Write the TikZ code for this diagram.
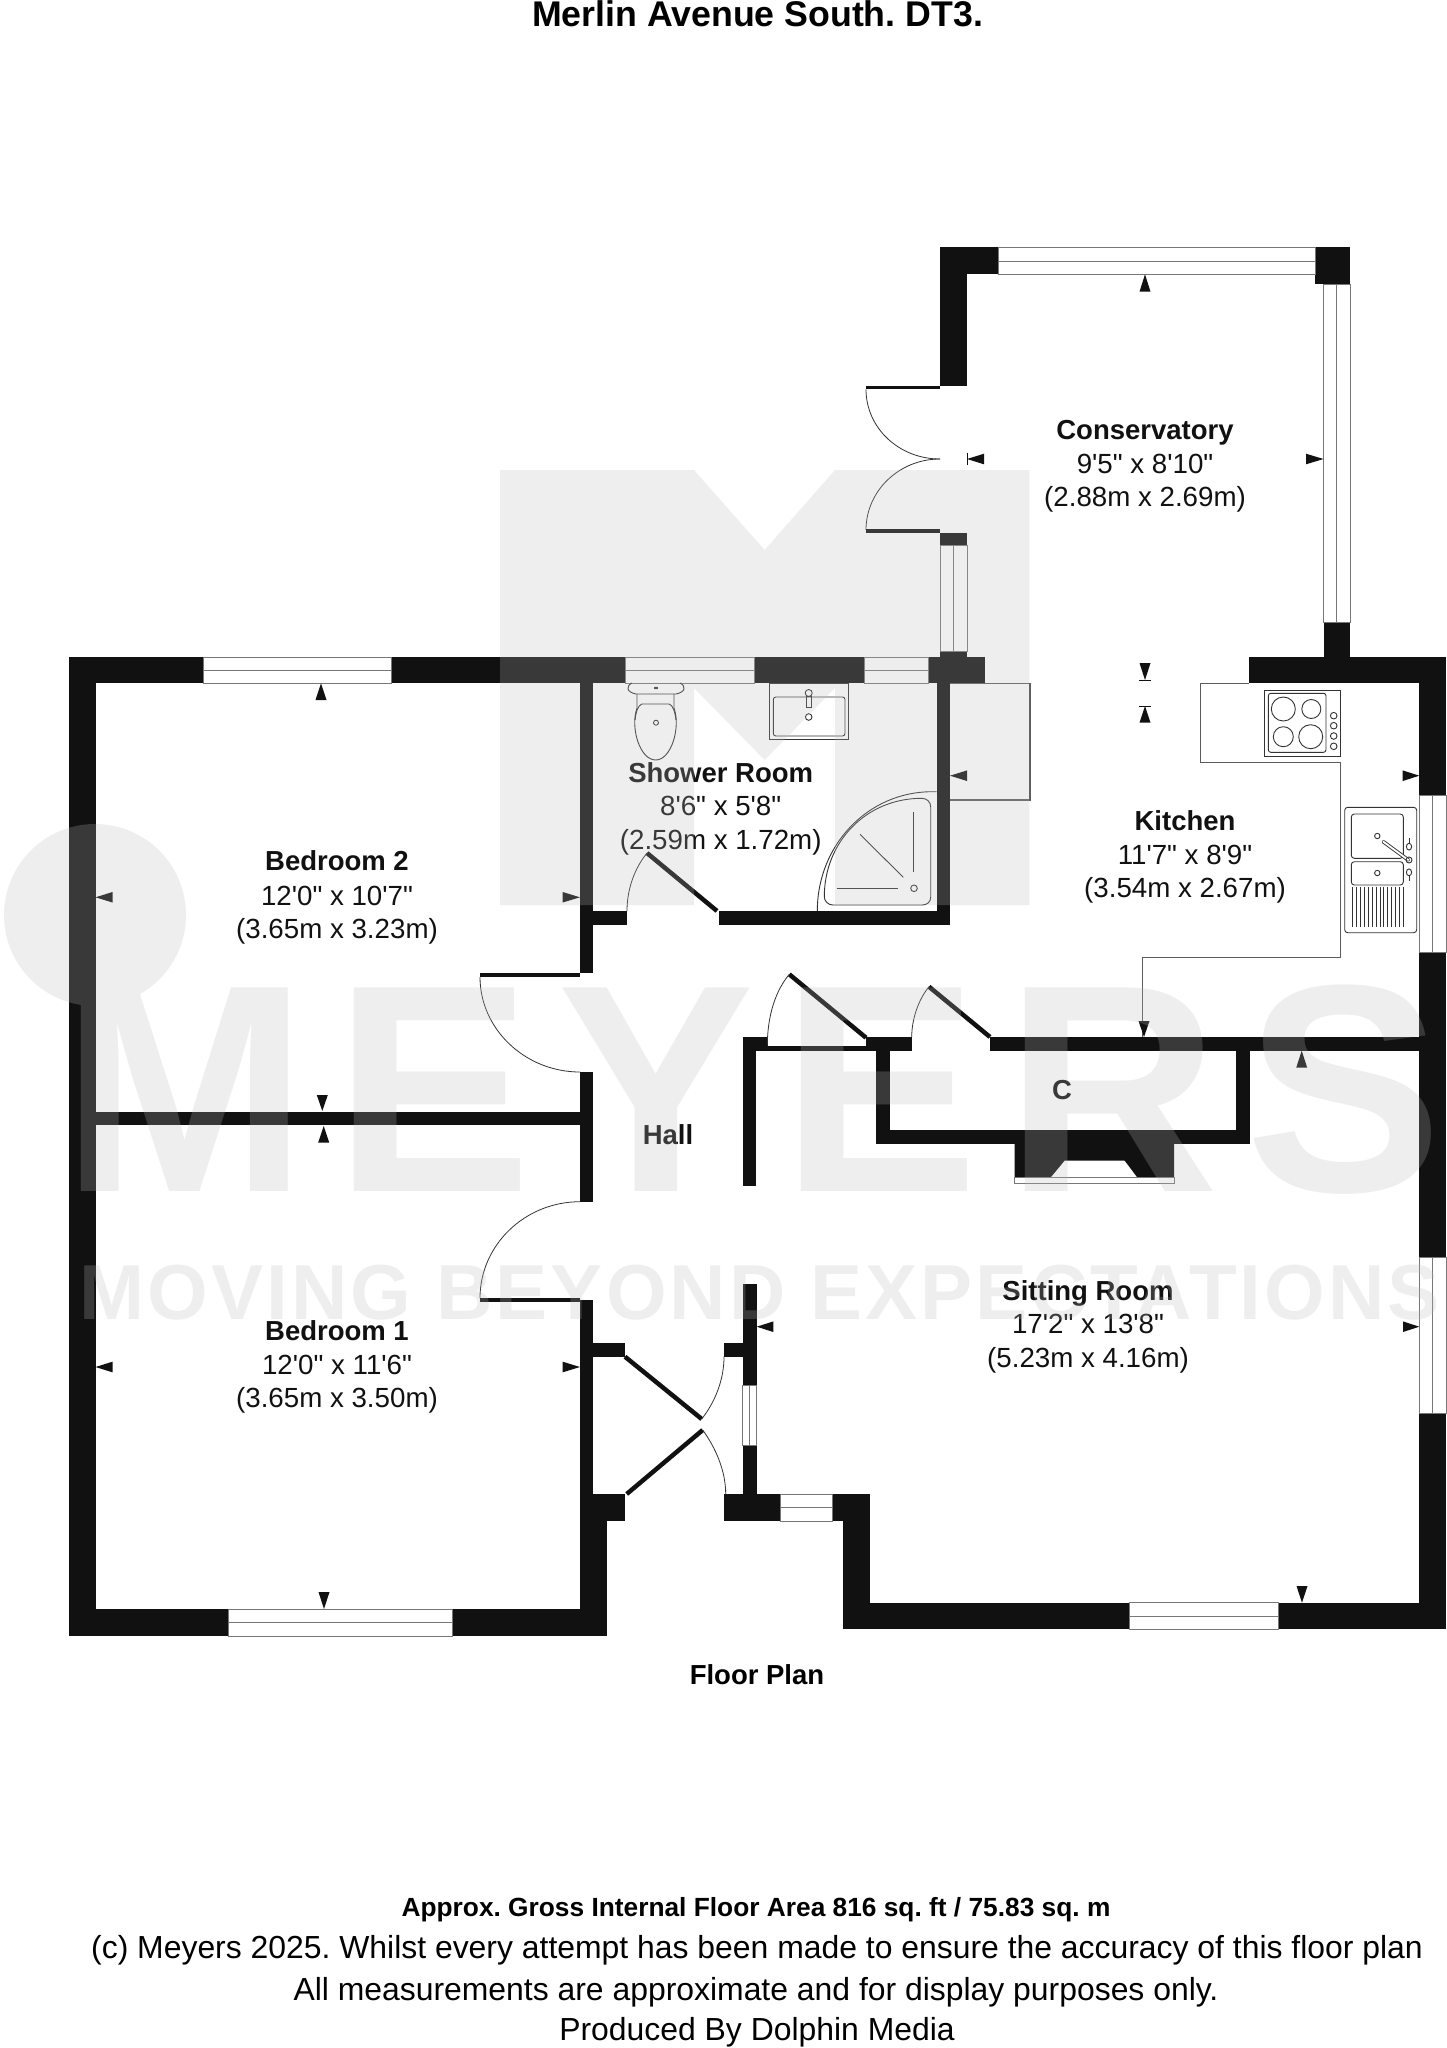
\documentclass[tikz,border=0pt]{standalone}
\usepackage{fontspec}
\setmainfont{Liberation Sans}[Ligatures=TeXOff]
\newfontfamily\wmfont[LetterSpace=8.85]{Liberation Sans}
\newfontfamily\wmsmallfont[LetterSpace=4]{Liberation Sans}
\definecolor{wallblack}{HTML}{111111}
\definecolor{panegray}{HTML}{777777}
\definecolor{fixturegray}{HTML}{333333}
\definecolor{markgray}{gray}{0.737}
\tikzset{
  wall/.style={fill=wallblack},
  pane/.style={draw=panegray,fill=white,line width=1pt},
  paneline/.style={draw=panegray,line width=1pt},
  unit/.style={draw=fixturegray,line width=0.9pt},
  worktop/.style={draw=fixturegray!80,line width=1.1pt},
  leaf/.style={draw=wallblack,line width=4.5pt},
  swing/.style={draw=fixturegray,line width=0.8pt},
  tip/.style={fill=wallblack},
  bar/.style={draw=wallblack,line width=0.9pt},
  roomname/.style={anchor=base,inner sep=0pt,text=wallblack,font=\fontsize{27.5}{33}\selectfont\bfseries},
  roomsize/.style={anchor=base,inner sep=0pt,text=wallblack,font=\fontsize{27.7}{33}\selectfont},
  notebold/.style={anchor=base,inner sep=0pt,text=black,font=\fontsize{26.3}{32}\selectfont\bfseries},
  noteline/.style={anchor=base,inner sep=0pt,text=black,font=\fontsize{31.9}{38}\selectfont}
}
\begin{document}
\frenchspacing
\begin{tikzpicture}[x=1pt,y=-1pt]
\useasboundingbox (0,0) rectangle (1447,2048);
\fill [white] (0,0) rectangle (1447,2048);
% outer walls
\fill [wall] (69,657) rectangle (95.5,1636);
\fill [wall] (69,657) rectangle (203.7,683.3);
\fill [wall] (391.8,657) rectangle (625,683.3);
\fill [wall] (754,657) rectangle (864,683.3);
\fill [wall] (928,657) rectangle (985,683.3);
\fill [wall] (1249.3,657) rectangle (1446,683.3);
\fill [wall] (1419.3,657) rectangle (1446,795.7);
\fill [wall] (1419.3,952.7) rectangle (1446,1257.7);
\fill [wall] (1419.3,1413) rectangle (1446,1629.3);
\fill [wall] (69,1609) rectangle (228.5,1636);
\fill [wall] (452,1609) rectangle (606.7,1636);
\fill [wall] (843.3,1602.7) rectangle (1129.7,1629.3);
\fill [wall] (1278.5,1602.7) rectangle (1446,1629.3);
\fill [wall] (843.3,1494) rectangle (870,1629.3);
% conservatory walls
\fill [wall] (940,247.3) rectangle (998,274.3);
\fill [wall] (940,247.3) rectangle (967,385.7);
\fill [wall] (1315,247.3) rectangle (1350,284);
\fill [wall] (1323.5,622.7) rectangle (1350,657);
\fill [wall] (940,532.7) rectangle (967,545);
\fill [wall] (940,651.7) rectangle (967,657);
% inner walls
\fill [wall] (580,683) rectangle (593.3,973);
\fill [wall] (580,1072) rectangle (593.3,1201.7);
\fill [wall] (580,1300) rectangle (593.3,1610);
\fill [wall] (95,1112) rectangle (580,1125);
\fill [wall] (580,1521) rectangle (606.7,1636);
\fill [wall] (580,1494) rectangle (625,1521);
\fill [wall] (593,1342.7) rectangle (625,1356.7);
\fill [wall] (593,911) rectangle (626.7,925);
\fill [wall] (719.3,911) rectangle (950,925);
\fill [wall] (936.7,683) rectangle (950,925);
% hall, cupboard and chimney
\fill [wall] (743,1037) rectangle (756.4,1185.7);
\fill [wall] (743,1037) rectangle (767.6,1050.7);
\fill [wall] (767.6,1046) rectangle (866,1050.7);
\fill [wall] (866,1037) rectangle (911.7,1050.7);
\fill [wall] (990,1037) rectangle (1446,1050.7);
\fill [wall] (876,1050) rectangle (889.5,1144);
\fill [wall] (876,1130) rectangle (1250,1144);
\fill [wall] (1236,1050) rectangle (1250,1144);
\fill [wall] (1014.5,1144) -- (1174,1144) -- (1174,1177) -- (1137,1177) -- (1124.7,1160.7) -- (1064.5,1160.7) -- (1051,1177) -- (1014.5,1177) -- cycle;
\draw [pane] (1014.5,1177) rectangle (1174,1183);
% front door walls
\fill [wall] (724,1342.7) rectangle (743,1356.7);
\fill [wall] (742.7,1284.3) rectangle (756.7,1385.7);
\fill [wall] (742.7,1445) rectangle (756.7,1494);
\fill [wall] (724,1494) rectangle (780,1521);
\fill [wall] (832.7,1494) rectangle (870,1521);
% windows
\draw [pane] (203.7,657) rectangle (391.8,683.3);
\draw [paneline] (203.7,670) -- (391.8,670);
\draw [pane] (625,657) rectangle (754,683.3);
\draw [paneline] (625,670) -- (754,670);
\draw [pane] (864,657) rectangle (928,683.3);
\draw [paneline] (864,670) -- (928,670);
\draw [pane] (998,247.3) rectangle (1315,274.3);
\draw [paneline] (998,261) -- (1315,261);
\draw [pane] (1323.5,284) rectangle (1350,622.7);
\draw [paneline] (1336.7,284) -- (1336.7,622.7);
\draw [pane] (940,545) rectangle (967,651.7);
\draw [paneline] (953.5,545) -- (953.5,651.7);
\draw [pane] (1419.3,795.7) rectangle (1446,952.7);
\draw [paneline] (1432.5,795.7) -- (1432.5,952.7);
\draw [pane] (1419.3,1257.7) rectangle (1446,1413);
\draw [paneline] (1432.5,1257.7) -- (1432.5,1413);
\draw [pane] (228.5,1609) rectangle (452,1636);
\draw [paneline] (228.5,1622.5) -- (452,1622.5);
\draw [pane] (1129.7,1602.7) rectangle (1278.5,1629.3);
\draw [paneline] (1129.7,1616) -- (1278.5,1616);
\draw [pane] (780,1494) rectangle (832.7,1521);
\draw [paneline] (780,1507.5) -- (832.7,1507.5);
\draw [pane] (742.7,1385.7) rectangle (756.7,1445);
\draw [paneline] (749.7,1385.7) -- (749.7,1445);
% doors
\fill [wall] (866,385.7) rectangle (940,389.3);
\draw [swing] (866,389.3) .. controls (866,428) and (899,459) .. (940,459);
\draw [swing] (940,459) .. controls (899,459) and (866,491) .. (866,530);
\fill [wall] (866,529.3) rectangle (940,533);
\fill [wall] (480,973) rectangle (580,977);
\draw [swing] (480,977) .. controls (480,1029) and (525,1072) .. (580,1072);
\fill [wall] (480,1298) rectangle (580,1301.7);
\draw [swing] (580,1201.7) .. controls (525,1201.7) and (480,1245) .. (480,1298);
\draw [leaf] (717,911) -- (647,853);
\draw [swing] (647,853) .. controls (634,869) and (627,890) .. (627,911);
\draw [leaf] (866,1037.7) -- (789.3,974.3);
\draw [swing] (789.3,974.3) .. controls (776,990) and (767.3,1015) .. (767.3,1046);
\draw [leaf] (990,1037) -- (929,986.7);
\draw [swing] (929,986.7) .. controls (918,1000) and (911.7,1020) .. (911.7,1037);
\draw [leaf] (625,1356.7) -- (701.7,1419);
\draw [swing] (701.7,1419) .. controls (715,1402) and (724,1380) .. (724,1356.7);
\draw [leaf] (626.7,1494) -- (702.7,1430);
\draw [swing] (702.7,1430) .. controls (715,1447) and (725.7,1470) .. (725.7,1494);
% toilet, basin and shower
\draw [unit] (632,683) .. controls (626,686) and (626,692) .. (636,694) -- (676,694) .. controls (686,692) and (686,686) .. (680,683);
\fill [fixturegray] (656,688) ellipse (2.2 and 1.2);
\draw [unit] (637,694) -- (637,708) .. controls (630,728) and (640,760) .. (655.7,760) .. controls (671,760) and (681,728) .. (674,708) -- (674,694);
\draw [unit] (635,720) .. controls (636,712) and (638,705) .. (642,704) -- (669,704) .. controls (673,705) and (675,712) .. (676,720);
\draw [unit] (656,722.7) circle (2.5);
\draw [unit] (769.3,683) rectangle (848.7,739);
\draw [unit,rounded corners=2.5pt] (773.3,697) rectangle (845,736);
\draw [unit] (808.7,693) circle (3.5);
\draw [unit] (806.5,696) rectangle (811,707);
\draw [unit] (808.7,717) circle (3.3);
\draw [unit] (936.7,791.7) -- (932,791.7) .. controls (868,791.7) and (817.3,845) .. (817.3,911);
\draw [unit] (921.7,798.3) .. controls (927,798.3) and (930.7,802) .. (930.7,807) -- (930.7,897) .. controls (930.7,902) and (927,905) .. (922,905) -- (833,905) .. controls (828,905) and (824.3,901) .. (824.3,896.7) .. controls (824.3,842) and (866,798.3) .. (921.7,798.3);
\draw [unit] (913.7,811.7) -- (913.7,871.7);
\draw [unit] (836.7,888.3) -- (898,888.3);
\draw [unit] (860,834.3) -- (903.3,877.3);
\draw [unit] (914,888.3) circle (3.3);
% kitchen fittings
\draw [worktop] (950,683.3) -- (1030,683.3) -- (1030,800) -- (950,800);
\draw [worktop] (1200.3,683.3) -- (1200.3,762.7) -- (1340.3,762.7) -- (1340.3,957.7) -- (1142.7,957.7) -- (1142.7,1037);
\draw [worktop] (1200.3,683.3) -- (1249.3,683.3);
\draw [unit] (1264.3,690) rectangle (1340.7,756.7);
\draw [unit,rounded corners=2.5pt] (1268.3,693.3) rectangle (1326,752.3);
\draw [unit] (1283.3,709) circle (12);
\draw [unit] (1311.3,709) circle (9.5);
\draw [unit] (1283.3,736.7) circle (10);
\draw [unit] (1310.7,736.7) circle (12);
\foreach \knoby in {715.7,725.7,736,746.3}
  \draw [unit] (1333.7,\knoby) circle (3.3);
\draw [unit,rounded corners=3pt] (1344.7,807.3) rectangle (1416.7,932.7);
\draw [unit,rounded corners=3pt] (1351.3,814) rectangle (1403.3,858.3);
\draw [unit,rounded corners=3pt] (1351.3,861.7) rectangle (1403.3,885);
\draw [unit] (1377.3,836) circle (2.7);
\draw [unit] (1377.3,873) circle (2.7);
\draw [fixturegray,line width=3.6pt,line cap=round] (1383.3,841.7) -- (1408.3,860);
\draw [white,line width=1.8pt,line cap=round] (1383.3,841.7) -- (1408.3,860);
\draw [unit] (1409,860) circle (3);
\draw [unit] (1409,846.7) ellipse (2.6 and 3.4);
\draw [unit] (1409,838) -- (1409,843);
\draw [unit] (1409,872.3) ellipse (2.6 and 3.4);
\draw [unit] (1409,876) -- (1409,881);
\foreach \ridgex in {1352.7,1356.6,...,1403.5}
  \draw [unit] (\ridgex,886.7) -- (\ridgex,926.7);
% dimension arrows
\fill [tip] (321,683.3) -- (315.5,700) -- (326.5,700) -- cycle;
\fill [tip] (95.5,897.3) -- (112.5,892) -- (112.5,902.5) -- cycle;
\fill [tip] (580,897.3) -- (562.7,892) -- (562.7,902.5) -- cycle;
\fill [tip] (322.3,1111) -- (316.8,1095) -- (327.8,1095) -- cycle;
\fill [tip] (323.7,1126) -- (318.2,1142.5) -- (329.2,1142.5) -- cycle;
\fill [tip] (95.5,1367) -- (112.5,1361.7) -- (112.5,1372.3) -- cycle;
\fill [tip] (580,1367) -- (562.7,1361.7) -- (562.7,1372.3) -- cycle;
\fill [tip] (324,1609) -- (318.5,1592) -- (329.5,1592) -- cycle;
\fill [tip] (1145,274.3) -- (1139.5,291.7) -- (1150.5,291.7) -- cycle;
\fill [tip] (967,459) -- (984,453.7) -- (984,464.3) -- cycle;
\draw [bar] (967,452.7) -- (967,465.3);
\fill [tip] (1323.5,459) -- (1306,453.7) -- (1306,464.3) -- cycle;
\fill [tip] (1145,680) -- (1139.5,663) -- (1150.5,663) -- cycle;
\draw [bar] (1139,680) -- (1151,680);
\fill [tip] (1145,706) -- (1139.5,722.7) -- (1150.5,722.7) -- cycle;
\draw [bar] (1139,706) -- (1151,706);
\fill [tip] (950,775.7) -- (967,770.4) -- (967,781) -- cycle;
\fill [tip] (1419.3,775.7) -- (1402.7,770.4) -- (1402.7,781) -- cycle;
\fill [tip] (1144,1037) -- (1138.5,1021) -- (1149.5,1021) -- cycle;
\fill [tip] (1301.7,1050.7) -- (1296.2,1067.7) -- (1307.2,1067.7) -- cycle;
\fill [tip] (756.7,1326.7) -- (773.3,1321.4) -- (773.3,1332) -- cycle;
\fill [tip] (1419.3,1326.7) -- (1403,1321.4) -- (1403,1332) -- cycle;
\fill [tip] (1302,1602.7) -- (1296.5,1586) -- (1307.5,1586) -- cycle;
% room labels
\node [roomname] (conservatory) at (1145,439) {Conservatory};
\node [roomsize] (conservatoryft) at (1145,473) {9'5" x 8'10"};
\node [roomsize] (conservatorym) at (1145,506.7) {(2.88m x 2.69m)};
\node [roomname] (shower) at (720.7,782.7) {Shower Room};
\node [roomsize] (showerft) at (720.7,815.7) {8'6" x 5'8"};
\node [roomsize] (showerm) at (720.7,849) {(2.59m x 1.72m)};
\node [roomname] (kitchen) at (1185,830.7) {Kitchen};
\node [roomsize] (kitchenft) at (1185,864) {11'7" x 8'9"};
\node [roomsize] (kitchenm) at (1185,897) {(3.54m x 2.67m)};
\node [roomname] (bedtwo) at (337,870.6) {Bedroom 2};
\node [roomsize] (bedtwoft) at (337,905) {12'0" x 10'7"};
\node [roomsize] (bedtwom) at (337,938) {(3.65m x 3.23m)};
\node [roomname] (bedone) at (337,1340.5) {Bedroom 1};
\node [roomsize] (bedoneft) at (337,1374) {12'0" x 11'6"};
\node [roomsize] (bedonem) at (337,1407) {(3.65m x 3.50m)};
\node [roomname] (sitting) at (1088,1300) {Sitting Room};
\node [roomsize] (sittingft) at (1088,1333.3) {17'2" x 13'8"};
\node [roomsize] (sittingm) at (1088,1367) {(5.23m x 4.16m)};
\node [roomname] (hall) at (668,1144.4) {Hall};
\node [roomname] (cupboard) at (1062,1099.3) {C};
% title and notes
\node [anchor=base,inner sep=0pt,text=black,font=\fontsize{35.7}{42}\selectfont\bfseries] (title) at (757.5,26) {Merlin Avenue South. DT3.};
\node [roomname,text=black] (floorplan) at (757,1684) {Floor Plan};
\node [notebold] (area) at (756,1916.7) {Approx. Gross Internal Floor Area 816 sq. ft / 75.83 sq. m};
\node [noteline] (noteone) at (757,1958) {(c) Meyers 2025. Whilst every attempt has been made to ensure the accuracy of this floor plan};
\node [noteline] (notetwo) at (756,2000) {All measurements are approximate and for display purposes only.};
\node [noteline] (notethree) at (757,2040) {Produced By Dolphin Media};
% watermark over everything
\begin{scope}[transparency group,opacity=0.24]
\fill [markgray] (500,470) -- (694,470) -- (764.6,550) -- (835,470) -- (1029.3,470) -- (1029.3,905) -- (835,905) -- (835,688) -- (764.6,760) -- (694,688) -- (694,905) -- (500,905) -- cycle;
\fill [markgray] (95,915) circle (91);
\node [anchor=base west,inner sep=0pt,text=markgray,font=\wmfont\bfseries\fontsize{296}{300}\selectfont] (markname) at (61.4,1191.4) {MEYERS};
\node [anchor=base west,inner sep=0pt,text=markgray,font=\wmsmallfont\bfseries\fontsize{78}{80}\selectfont] (markline) at (79.5,1319) {MOVING BEYOND EXPECTATIONS};
\end{scope}
\end{tikzpicture}
\end{document}
